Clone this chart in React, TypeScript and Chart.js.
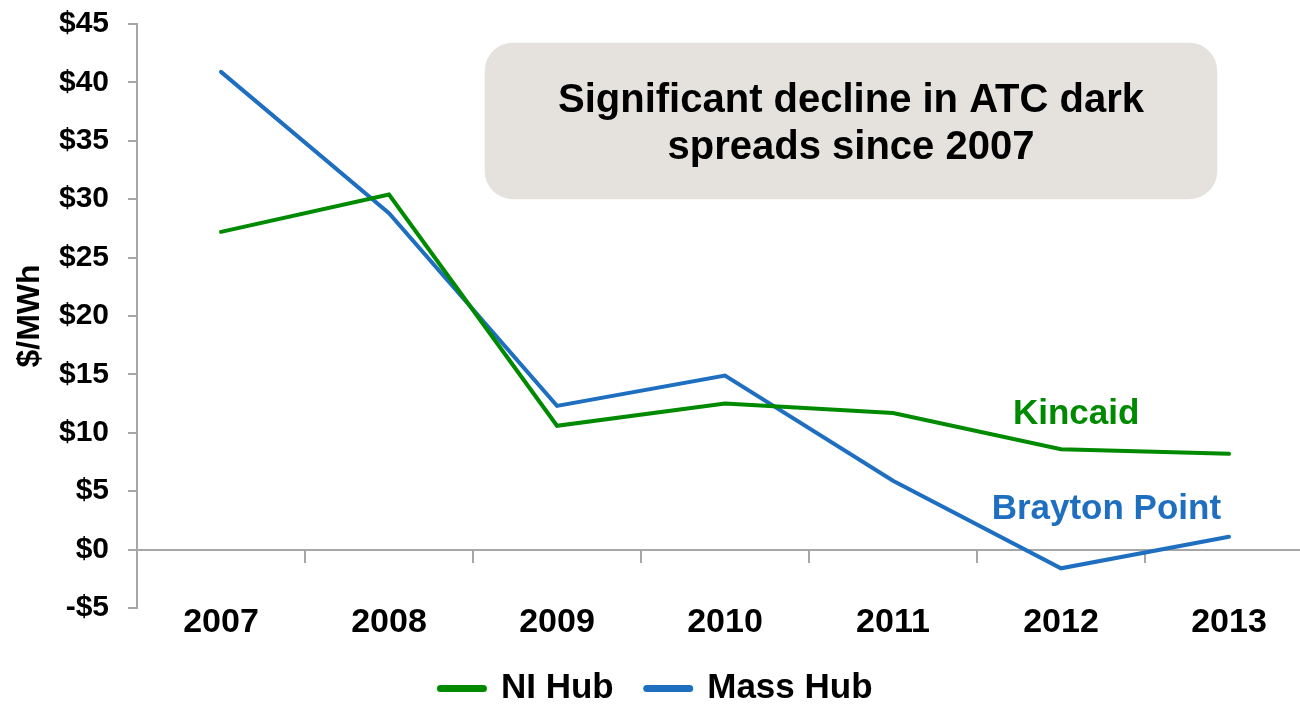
import React, { useEffect, useRef } from 'react';
import { Chart, registerables } from 'chart.js';

Chart.register(...registerables);

// ---- data ----
const years = ['2007', '2008', '2009', '2010', '2011', '2012', '2013'];
const niHub = [27.2, 30.4, 10.6, 12.5, 11.7, 8.6, 8.2];
const massHub = [40.9, 28.8, 12.3, 14.9, 5.9, -1.6, 1.1];
const seriesNames = ['NI Hub', 'Mass Hub'];
const yMin = -5;
const yMax = 45;
const yStep = 5;
const yAxisTitle = '$/MWh';
const calloutLines = ['Significant decline in ATC dark', 'spreads since 2007'];
const plantLabels = ['Kincaid', 'Brayton Point'];

// ---- styles ----
const FONT = "'Liberation Sans', Arial, Helvetica, sans-serif";
const GREEN = '#008a00';
const BLUE = '#1f6fc1';
const AXIS = '#a6a6a6';

const annotationPlugin = {
  id: 'slideAnnotations',
  afterDraw(chart: any) {
    const { ctx, scales } = chart;
    const x = scales.x;
    const y = scales.y;
    ctx.save();
    // callout box
    const bl = x.getPixelForValue(1.57);
    const br = x.getPixelForValue(5.93);
    const bt = y.getPixelForValue(43.4);
    const bb = y.getPixelForValue(30.0);
    ctx.fillStyle = '#e5e2dd';
    ctx.beginPath();
    ctx.roundRect(bl, bt, br - bl, bb - bt, 28);
    ctx.fill();
    ctx.fillStyle = '#000';
    ctx.textAlign = 'center';
    ctx.textBaseline = 'alphabetic';
    ctx.font = `bold 40px ${FONT}`;
    const cx = x.getPixelForValue(3.75);
    ctx.fillText(calloutLines[0], cx, y.getPixelForValue(37.44));
    ctx.fillText(calloutLines[1], cx, y.getPixelForValue(33.4));
    // plant labels
    ctx.font = `bold 35px ${FONT}`;
    ctx.fillStyle = GREEN;
    ctx.fillText(plantLabels[0], x.getPixelForValue(5.09), y.getPixelForValue(10.74));
    ctx.fillStyle = BLUE;
    ctx.fillText(plantLabels[1], x.getPixelForValue(5.27), y.getPixelForValue(2.59));
    ctx.restore();
  },
};

export default function App() {
  const canvasRef = useRef<HTMLCanvasElement | null>(null);

  useEffect(() => {
    const canvas = canvasRef.current;
    if (!canvas) return;
    const chart = new Chart(canvas, {
      type: 'line',
      data: {
        labels: years,
        datasets: [
          {
            label: seriesNames[0],
            data: niHub,
            borderColor: GREEN,
            backgroundColor: GREEN,
            borderWidth: 4,
            pointRadius: 0,
            pointHoverRadius: 0,
            tension: 0,
            borderCapStyle: 'round',
          },
          {
            label: seriesNames[1],
            data: massHub,
            borderColor: BLUE,
            backgroundColor: BLUE,
            borderWidth: 4,
            pointRadius: 0,
            pointHoverRadius: 0,
            tension: 0,
            borderCapStyle: 'round',
          },
        ],
      },
      options: {
        responsive: false,
        animation: false,
        events: [],
        layout: { padding: { top: 24, left: 0, right: 0, bottom: 0 } },
        plugins: {
          tooltip: { enabled: false },
          legend: {
            position: 'bottom',
            labels: {
              usePointStyle: true,
              pointStyle: 'line',
              pointStyleWidth: 43,
              padding: 33,
              color: '#000',
              font: { family: FONT, size: 35, weight: 'bold' },
              generateLabels(c: any) {
                const items = (Chart.defaults.plugins.legend.labels as any).generateLabels(c);
                items.forEach((it: any) => {
                  it.lineWidth = 7;
                  it.pointStyle = 'line';
                  it.lineCap = 'round';
                });
                return items;
              },
            },
          },
        },
        scales: {
          x: {
            type: 'category',
            offset: true,
            grid: { display: false, drawTicks: false },
            border: { display: false },
            ticks: {
              color: '#000',
              font: { family: FONT, size: 34, weight: 'bold', lineHeight: 1 },
              padding: -2,
              maxRotation: 0,
              autoSkip: false,
            },
          },
          x2: {
            type: 'category',
            position: { y: 0 },
            offset: true,
            grid: {
              offset: true,
              drawOnChartArea: false,
              drawTicks: true,
              tickLength: 12,
              color: AXIS,
              lineWidth: 2,
            },
            border: { display: true, color: AXIS, width: 2 },
            ticks: { display: false },
          },
          y: {
            min: yMin,
            max: yMax,
            ticks: {
              stepSize: yStep,
              autoSkip: false,
              color: '#000',
              padding: 19,
              font: { family: FONT, size: 30, weight: 'bold' },
              callback: (v: any) => (v < 0 ? `-$${Math.abs(v)}` : `$${v}`),
            },
            grid: {
              drawOnChartArea: false,
              drawTicks: true,
              tickLength: 9,
              color: AXIS,
              lineWidth: 2,
            },
            border: { display: true, color: AXIS, width: 2 },
            title: {
              display: true,
              text: yAxisTitle,
              color: '#000',
              font: { family: FONT, size: 32, weight: 'bold', lineHeight: 1.2 },
              padding: { top: 11, bottom: 0 },
            },
            afterFit(scale: any) {
              scale.width = 137;
              scale.paddingTop = 18;
              scale.paddingBottom = 18;
            },
          },
        },
      } as any,
      plugins: [annotationPlugin],
    });
    return () => chart.destroy();
  }, []);

  return (
    <div
      style={{
        position: 'fixed',
        left: 0,
        top: 0,
        width: 1300,
        height: 705,
        overflow: 'hidden',
        background: '#fff',
      }}
    >
      <canvas ref={canvasRef} width={1313} height={716} style={{ display: 'block' }} />
    </div>
  );
}
